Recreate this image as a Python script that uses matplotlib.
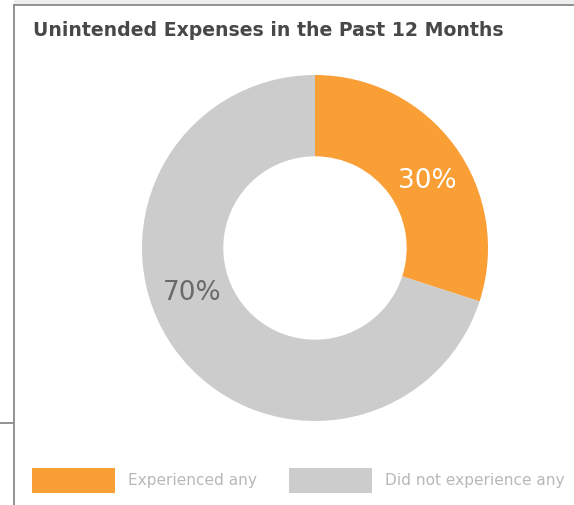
import matplotlib
matplotlib.use('Agg')
import matplotlib.pyplot as plt
from matplotlib.patches import Rectangle
from matplotlib.lines import Line2D
import numpy as np

#%% data
title = 'Unintended Expenses in the Past 12 Months'
categories = ['Experienced any', 'Did not experience any']
shares = [30, 70]
colors = ['#FA9E36', '#CCCCCC']
label_colors = ['white', '#6a6a6a']
label_angles = [31, 200]   # where the % labels sit on the ring (deg)

W, H = 574, 505
fig = plt.figure(figsize=(W / 100, H / 100), dpi=100)
fig.patch.set_facecolor('white')

def px(x, y):
    # pixel coords (top-left origin) -> figure fraction
    return x / W, 1 - y / H

#%% frame lines around the panel
fig.add_artist(Rectangle((14 / W, 1 - 4 / H), 1, 4 / H, transform=fig.transFigure,
                         facecolor='#eeeeee', edgecolor='none'))
fig.add_artist(Line2D([14 / W, 1], [1 - 4.5 / H] * 2, transform=fig.transFigure,
                      color='#8a8a8a', lw=1.3))
fig.add_artist(Line2D([14 / W] * 2, [0, 1 - 4.5 / H], transform=fig.transFigure,
                      color='#8a8a8a', lw=1.3))
fig.add_artist(Line2D([0, 13 / W], [1 - 423 / H] * 2, transform=fig.transFigure,
                      color='#8a8a8a', lw=1.3))

#%% donut
cx, cy, r = 315, 248, 173
ax = fig.add_axes([(cx - r) / W, 1 - (cy + r) / H, 2 * r / W, 2 * r / H])
ax.pie(shares, colors=colors, startangle=90, counterclock=False, radius=1,
       wedgeprops=dict(width=0.47, edgecolor='none'))
ax.set_xlim(-1, 1)
ax.set_ylim(-1, 1)
ax.set_aspect('equal')
ax.axis('off')

for val, ang, col in zip(shares, label_angles, label_colors):
    a = np.deg2rad(ang)
    ax.text(0.755 * np.cos(a), 0.755 * np.sin(a), f'{val}%', color=col,
            fontsize=19, ha='center', va='center', family='DejaVu Sans')

#%% title
fig.text(*px(33, 30), title, fontsize=13.6, fontweight='bold', color='#484848',
         ha='left', va='center', family='DejaVu Sans')

#%% legend
leg_x = [32, 289]
for x0, name, col in zip(leg_x, categories, colors):
    fig.add_artist(Rectangle(px(x0, 493), 83 / W, 25 / H, transform=fig.transFigure,
                             facecolor=col, edgecolor='none'))
    fig.text(*px(x0 + 96, 481), name, fontsize=11.1, color='#b8b8b8',
             ha='left', va='center', family='DejaVu Sans')

fig.savefig('out.png', dpi=100)
